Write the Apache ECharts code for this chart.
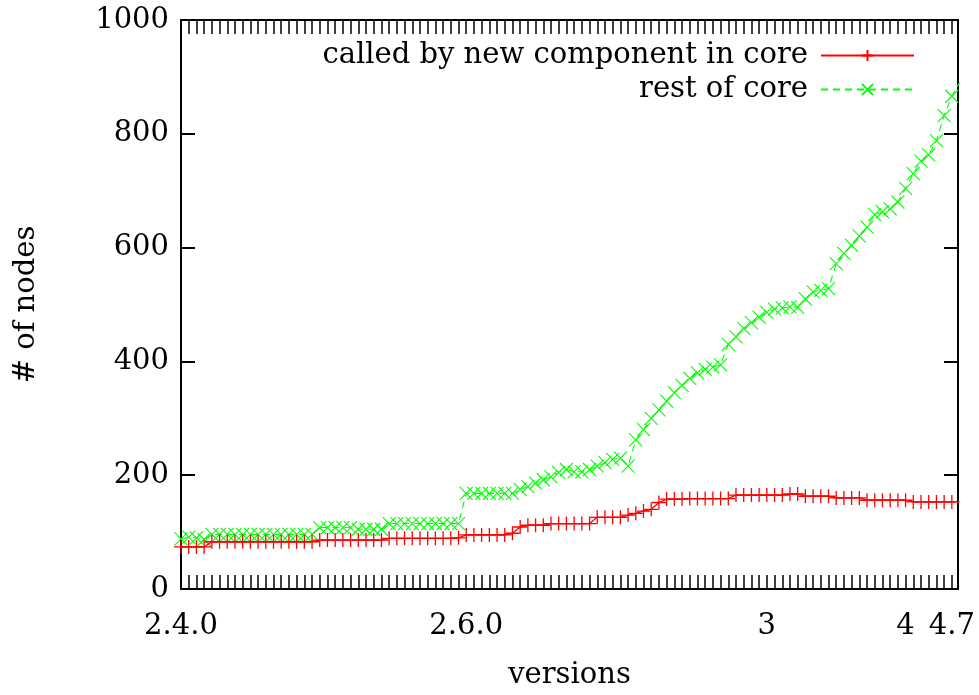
<!DOCTYPE html>
<html><head><meta charset="utf-8">
<script src="https://cdn.jsdelivr.net/npm/echarts@6/dist/echarts.min.js"></script>
<style>html,body{margin:0;padding:0;background:#fff}#c{width:979px;height:695px}</style>
</head><body><div id="c"></div>
<script>
const xTickIndex = [0, 37, 76, 94, 100];
const xTickLabels = ['2.4.0', '2.6.0', '3', '4', '4.7'];
const yTicks = [0, 200, 400, 600, 800, 1000];
const seriesNames = ['called by new component in core', 'rest of core'];

const calledByNew = [
  74, 74, 74, 74,
  83, 83, 83, 83, 83, 83, 83, 83, 83, 83, 83, 83, 83, 83,
  86, 86, 86, 86, 86, 86, 86, 86, 86,
  89, 89, 89, 89, 89, 89, 89, 89, 89, 90,
  95, 95, 95, 95, 95, 95,
  98, 109, 112, 112, 112,
  115, 115, 115, 115, 115, 115,
  126, 126, 126, 126,
  130, 133, 137, 140, 152,
  158, 158, 158, 159, 159, 159, 159, 159, 159,
  165, 165, 165, 165, 165, 165, 165,
  167, 167,
  163, 163, 163, 163,
  160, 160, 160, 160,
  156, 156, 156, 156, 156, 156,
  153, 153, 153, 153, 153, 153, 153
];

const restOfCore = [
  88, 91, 90, 87,
  96, 96, 96, 96, 96, 96, 96, 96, 96, 96, 96, 96, 96, 96,
  108, 108, 108, 108, 108,
  105, 105, 105, 105,
  115, 115, 115, 115, 115, 115, 115, 115, 115, 115,
  168, 168, 168, 168, 168, 168, 168,
  175, 180, 186, 192, 197, 205, 210, 206, 206, 210,
  216, 222, 228, 230, 216, 262, 280, 300, 315, 330,
  345, 358, 370, 380, 386, 390, 394, 430, 443, 458,
  468, 478, 486, 492, 494, 496, 495, 510, 522, 525,
  528, 572, 590, 604, 620, 636, 658, 663, 668, 680,
  704, 730, 752, 763, 788, 832, 866, 890
];

const FONT = 'DejaVu Serif';
const FS = 29;
const plusPath = 'path://M5,0L5,10M0,5L10,5';
const crossPath = 'path://M0,0L10,10M10,0L0,10';

const toPairs = arr => arr.map((v, i) => [i, v]);
const labelMap = {};
xTickIndex.forEach((ix, k) => { labelMap[ix] = xTickLabels[k]; });

const xMax = 100.8;
const yMin = yTicks[0];
const yMax = yTicks[yTicks.length - 1];
const yStep = yTicks[1] - yTicks[0];
const mkLine = () => ({ show: true, onZero: false, lineStyle: { color: '#000', width: 2 } });
const mkXTick = () => ({ show: true, inside: true, length: 14, lineStyle: { color: '#000', width: 1.5 } });
const mkYTick = () => ({ show: true, inside: true, length: 14, lineStyle: { color: '#000', width: 2 } });

const chart = echarts.init(document.getElementById('c'), null, { renderer: 'canvas' });
chart.setOption({
  backgroundColor: '#fff',
  animation: false,
  textStyle: { fontFamily: FONT },
  grid: { left: 181, right: 21, top: 20, bottom: 106 },
  legend: {
    orient: 'vertical',
    right: 59,
    top: 36,
    align: 'right',
    itemWidth: 93,
    itemHeight: 14,
    itemGap: 5,
    textStyle: { fontFamily: FONT, fontSize: FS, color: '#000', padding: [0, 8, 0, 0] },
    data: seriesNames
  },
  xAxis: [{
    type: 'value', min: 0, max: xMax, interval: 1,
    position: 'bottom',
    name: 'versions', nameLocation: 'middle', nameGap: 72,
    nameTextStyle: { fontFamily: FONT, fontSize: FS, color: '#000' },
    axisLine: mkLine(),
    axisTick: mkXTick(),
    axisLabel: {
      show: true, margin: 23, interval: 0, showMinLabel: true, showMaxLabel: false,
      fontFamily: FONT, fontSize: FS, color: '#000',
      formatter: v => (labelMap[v] !== undefined ? labelMap[v] : '')
    },
    splitLine: { show: false }
  }, {
    type: 'value', min: 0, max: xMax, interval: 1,
    position: 'top',
    axisLine: mkLine(),
    axisTick: mkXTick(),
    axisLabel: { show: false },
    splitLine: { show: false }
  }],
  yAxis: [{
    type: 'value', min: yMin, max: yMax, interval: yStep,
    position: 'left',
    name: '# of nodes', nameLocation: 'middle', nameGap: 140, nameRotate: 90,
    nameTextStyle: { fontFamily: FONT, fontSize: FS, color: '#000' },
    axisLine: mkLine(),
    axisTick: mkYTick(),
    axisLabel: {
      margin: 12, fontFamily: FONT, fontSize: FS, color: '#000',
      formatter: v => String(v)
    },
    splitLine: { show: false }
  }, {
    type: 'value', min: yMin, max: yMax, interval: yStep,
    position: 'right',
    axisLine: mkLine(),
    axisTick: mkYTick(),
    axisLabel: { show: false },
    splitLine: { show: false }
  }],
  series: [{
    name: seriesNames[0],
    type: 'line',
    data: toPairs(calledByNew),
    symbol: plusPath,
    symbolSize: 14,
    showAllSymbol: true,
    clip: true,
    lineStyle: { color: '#ff0000', width: 1.3 },
    itemStyle: { color: '#ff0000', borderColor: '#ff0000', borderWidth: 1.3 },
    z: 3
  }, {
    name: seriesNames[1],
    type: 'line',
    data: toPairs(restOfCore),
    symbol: crossPath,
    symbolSize: 13,
    showAllSymbol: true,
    clip: true,
    lineStyle: { color: '#00ff00', width: 1.1, type: [7, 5] },
    itemStyle: { color: '#00ff00', borderColor: '#00ff00', borderWidth: 1.1 },
    z: 2
  }]
});
</script>
</body></html>
